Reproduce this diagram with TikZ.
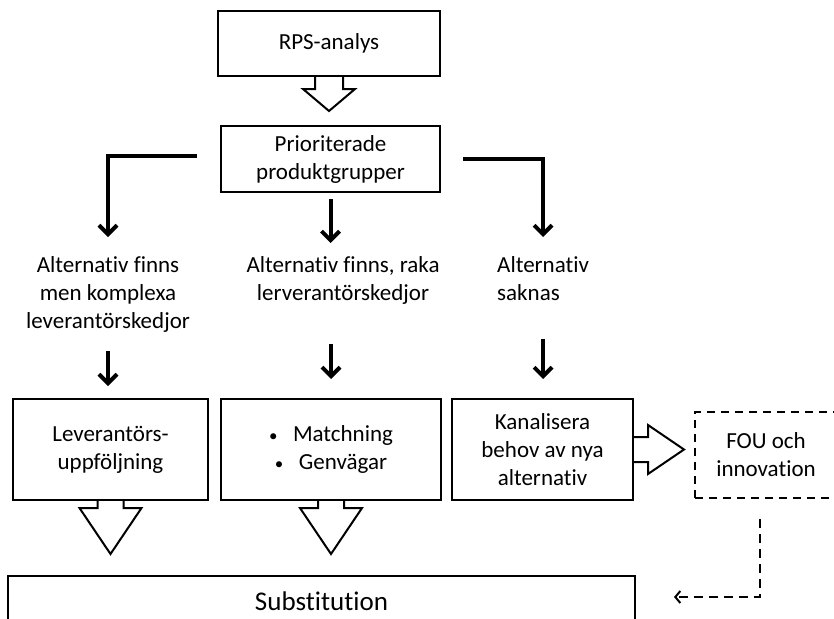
\documentclass[tikz,border=0pt]{standalone}
\usepackage{fontspec}
\setmainfont[Ligatures={NoCommon,NoRequired,NoContextual}]{Carlito}
\usetikzlibrary{positioning,arrows.meta,calc}

\newcommand{\bulletitem}{\makebox[24pt][l]{\fontsize{17}{17}\selectfont\textbullet}}

\tikzset{
  box/.style={draw, line width=2pt, align=center, inner sep=0pt},
  dashbox/.style={box, dash pattern=on 8pt off 6pt},
  lbl/.style={align=center, inner sep=0pt},
  thickarr/.style={line width=4pt, -{Straight Barb[length=9pt,width=18pt]}},
  dasharr/.style={line width=2pt, dash pattern=on 9pt off 6pt, -{Straight Barb[length=5pt,width=12pt]}},
  pics/blockdown/.style args={#1/#2/#3/#4}{code={
    \draw[line width=2pt, fill=white, line join=miter]
      (-#1,0) -- (-#1,#3) -- (-#2,#3) -- (0,#3+#4) -- (#2,#3) -- (#1,#3) -- (#1,0);
  }}
}

\begin{document}
\begin{tikzpicture}[x=1pt, y=-1pt, font=\fontsize{23}{28}\selectfont]
\useasboundingbox (0,0) rectangle (834,618);
\clip (0,0) rectangle (834,618);

% top of the chain
\node[box, minimum width=222pt, minimum height=65pt] (rps) at (329,43.5) {RPS-analys};
\node[box, minimum width=219pt, minimum height=66pt] (prio) at (330.5,159) {Prioriterade\\produktgrupper};
\pic at (rps.south) {blockdown=14/26/12/22};

% three cases
\node[lbl, anchor=north] (alt1) at (108,256) {Alternativ finns\\men komplexa\\leverantörskedjor};
\node[lbl, anchor=north] (alt2) at (343,256) {Alternativ finns, raka\\lerverantörskedjor};
\node[lbl, anchor=north west, align=left] (alt3) at (497,256) {Alternativ\\saknas};

\draw[thickarr, shorten >=19pt] ([xshift=-23pt,yshift=3pt]prio.west) -| (alt1.north);
\draw[thickarr, shorten <=6pt, shorten >=13pt] (prio.south) -- (prio.south |- alt2.north);
\draw[thickarr, shorten >=19pt] ([xshift=22pt]prio.east) -| (alt3.north);

% actions
\node[box, minimum width=195pt, minimum height=101pt] (lev) at (110.5,449.5) {Leverantörs-\\uppföljning};
\node[box, minimum width=220pt, minimum height=101pt] (match) at (331,449.5)
  {\bulletitem Matchning\\\bulletitem Genvägar\hspace{12pt}};
\node[box, minimum width=181pt, minimum height=101pt] (kanal) at (542.5,449.5) {Kanalisera\\behov av nya\\alternativ};
\node[dashbox, minimum width=142pt, minimum height=86pt] (fou) at (766,455) {FOU och\\innovation};

\draw[thickarr, shorten <=19pt, shorten >=12pt] (alt1.south) -- (alt1.south |- lev.north);
\draw[thickarr, shorten <=40pt, shorten >=19pt] (match.north |- alt2.south) -- (match.north);
\draw[thickarr, shorten <=38pt, shorten >=19pt] (alt3.south) -- (alt3.south |- kanal.north);

\pic at (lev.south) {blockdown=13/31/7/46};
\pic at (match.south) {blockdown=13/31/7/46};
\pic[rotate=90] at (kanal.east) {blockdown=12.5/24.5/14/36};

% result
\node[box, minimum width=627pt, minimum height=50pt, font=\fontsize{27}{32}\selectfont] (subst) at (321.5,601) {Substitution};
\coordinate (fouend) at ([xshift=38pt,yshift=4pt]subst.east);
\draw[dasharr, shorten <=20pt] ([xshift=-6pt]fou.south) |- (fouend);
\end{tikzpicture}
\end{document}
